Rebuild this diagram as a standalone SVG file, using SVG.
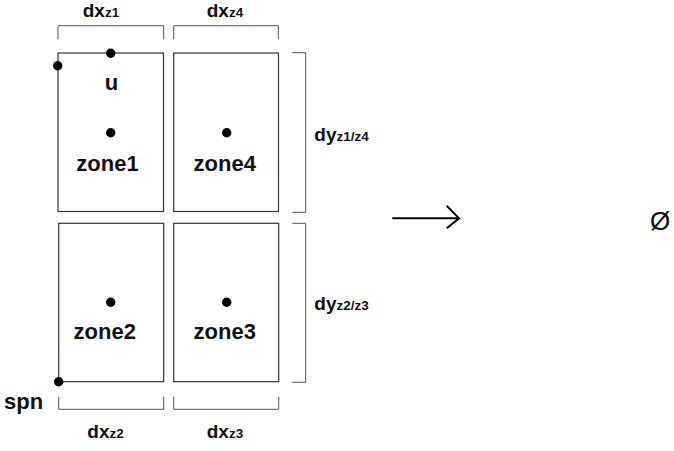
<svg xmlns="http://www.w3.org/2000/svg" width="674" height="451" viewBox="0 0 674 451">
<style>
.box{fill:none;stroke:#333;stroke-width:1.2}
.br{fill:none;stroke:#555;stroke-width:1}
.dot{fill:#000}
.t{font-family:"Liberation Sans",Arial,sans-serif;font-size:22px;font-weight:bold;fill:#111}
.d{font-family:"Liberation Sans",Arial,sans-serif;font-size:19px;font-weight:bold;fill:#111}
.s{font-size:13.5px}
</style>
<rect width="674" height="451" fill="#fff"/>
<g id="zone1">
<rect class="box" x="58" y="53" width="105.5" height="158.5"/>
<circle class="dot" cx="110.7" cy="53.3" r="4.7"/>
<text class="t" x="111.5" y="89.5" text-anchor="middle">u</text>
<circle class="dot" cx="110.7" cy="132.7" r="4.7"/>
<text class="t" x="107.5" y="170.5" text-anchor="middle">zone1</text>
<circle class="dot" cx="57.7" cy="65.7" r="4.7"/>
</g>
<g id="zone4">
<rect class="box" x="173.7" y="53" width="104.8" height="158.5"/>
<circle class="dot" cx="226.7" cy="132.7" r="4.7"/>
<text class="t" x="224.7" y="170.5" text-anchor="middle">zone4</text>
</g>
<g id="zone2">
<rect class="box" x="58.7" y="223.3" width="105" height="158.4"/>
<circle class="dot" cx="110.7" cy="302.3" r="4.7"/>
<text class="t" x="104.8" y="339" text-anchor="middle">zone2</text>
<circle class="dot" cx="58.7" cy="381.7" r="4.7"/>
<text class="t" x="4" y="409.3">spn</text>
</g>
<g id="zone3">
<rect class="box" x="173.7" y="223.3" width="105" height="158.4"/>
<circle class="dot" cx="226.7" cy="302.3" r="4.7"/>
<text class="t" x="224.7" y="339" text-anchor="middle">zone3</text>
</g>
<g id="brackets">
<path class="br" d="M58,39.3 V25.7 H163.7 V39.3"/>
<path class="br" d="M173.7,39.3 V25.7 H278.3 V39.3"/>
<path class="br" d="M58.7,396.7 V409.3 H163.7 V396.7"/>
<path class="br" d="M173.7,396.7 V409.3 H278.7 V396.7"/>
<path class="br" d="M292.3,52.7 H305.7 V212.3 H292.3"/>
<path class="br" d="M292.3,223.3 H305.7 V382.3 H292.3"/>
<text class="d" x="82.7" y="17">dx<tspan class="s">z1</tspan></text>
<text class="d" x="206.7" y="17">dx<tspan class="s">z4</tspan></text>
<text class="d" x="87.3" y="437.7">dx<tspan class="s">z2</tspan></text>
<text class="d" x="206.7" y="437.7">dx<tspan class="s">z3</tspan></text>
<text class="d" x="314.3" y="141">dy<tspan class="s">z1/z4</tspan></text>
<text class="d" x="314.3" y="310">dy<tspan class="s">z2/z3</tspan></text>
</g>
<g id="connectors">
<path d="M392.3,218.3 H459" fill="none" stroke="#000" stroke-width="2"/>
<path d="M446.7,205.7 L459,218.3 L446.7,228.3" fill="none" stroke="#000" stroke-width="2"/>
</g>
<g id="empty">
<text class="t" x="660" y="230" text-anchor="middle" style="font-weight:normal;font-size:26px">Ø</text>
</g>
</svg>
